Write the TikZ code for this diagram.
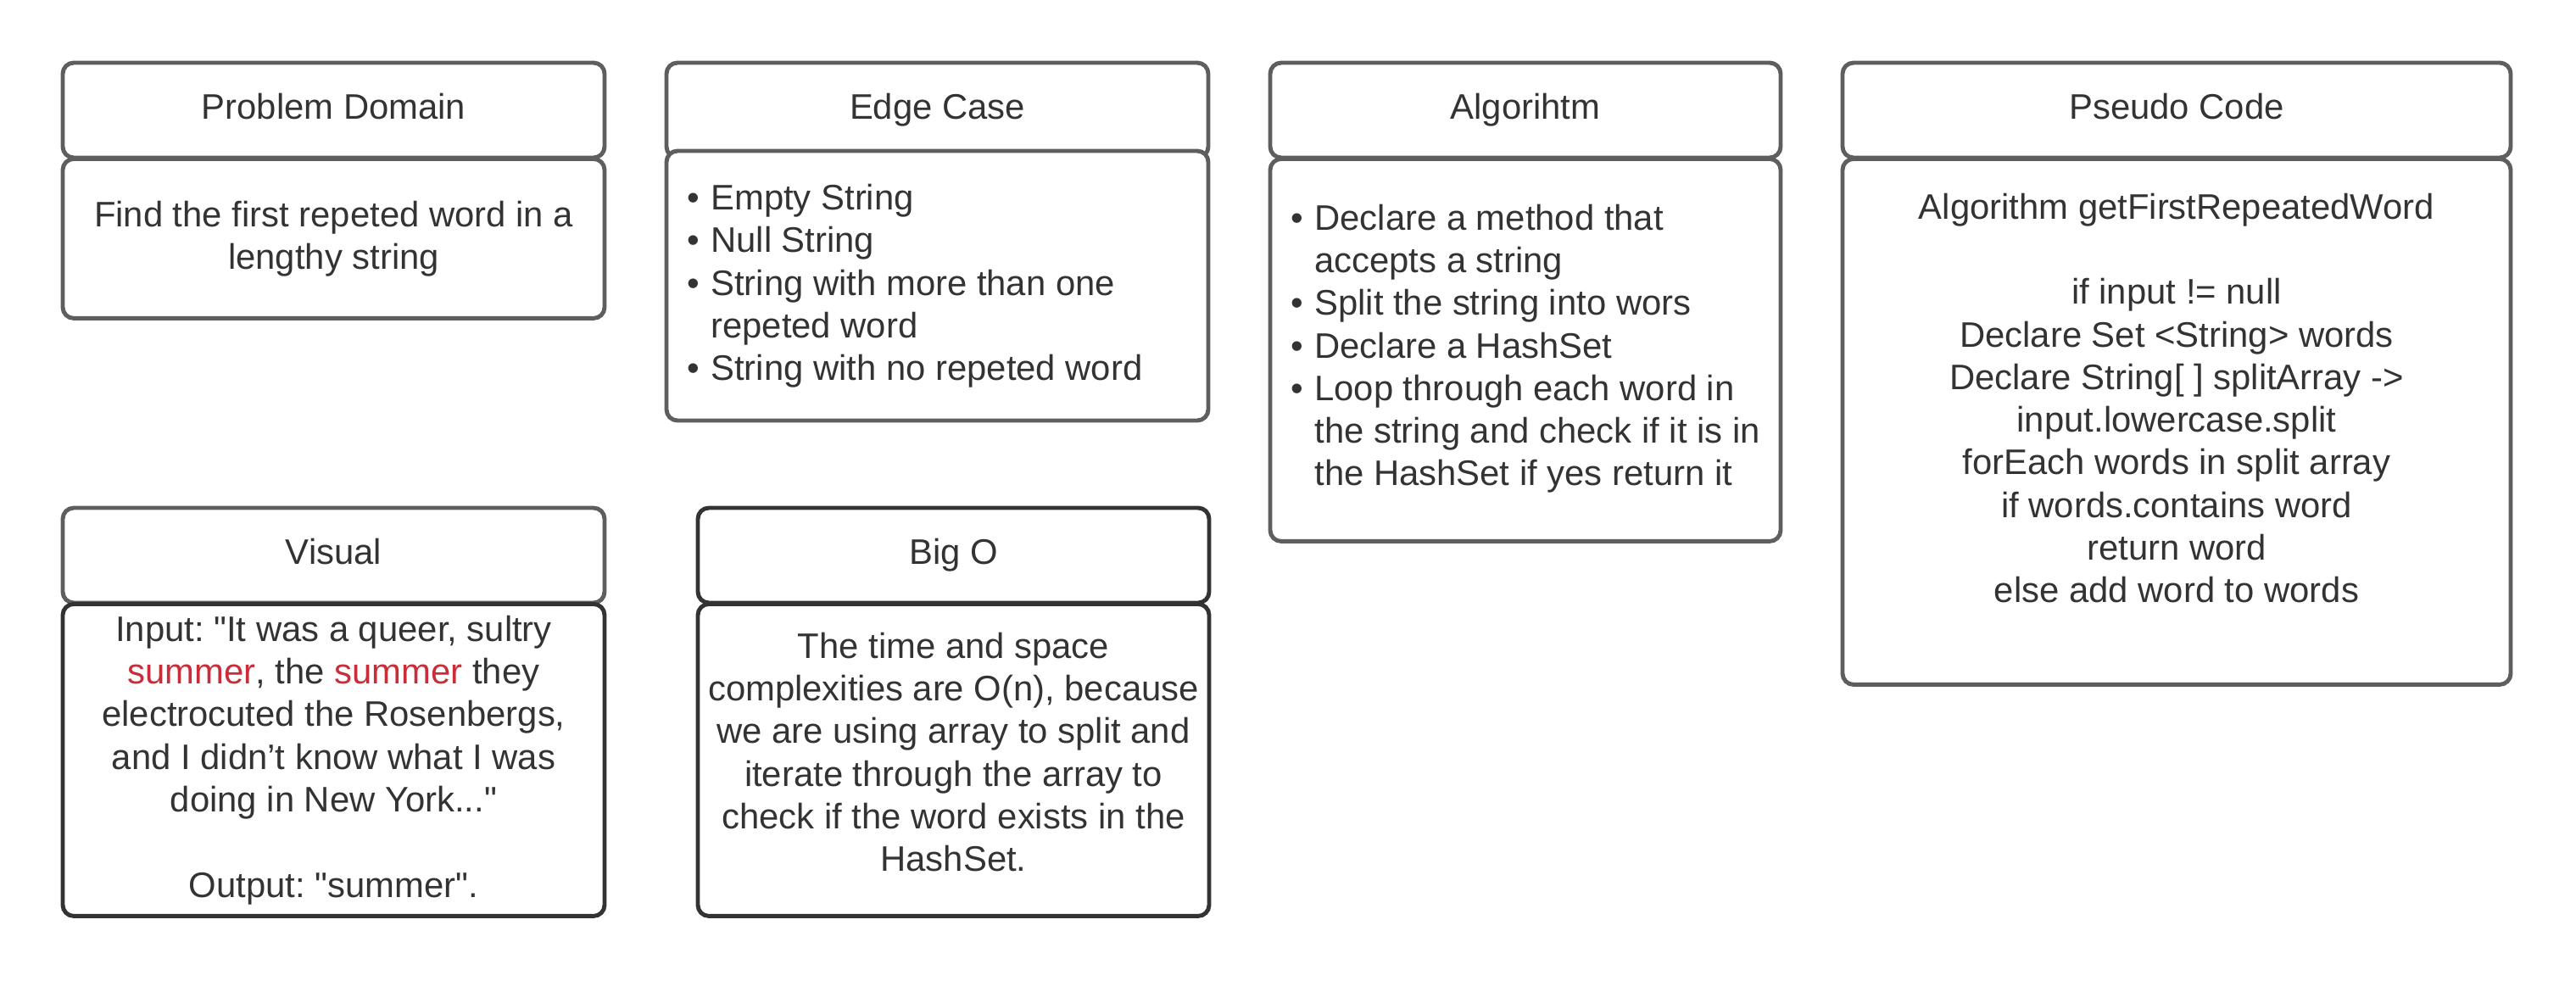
\documentclass[tikz,border=0pt]{standalone}
\usepackage{fontspec}
\newfontfamily\lucidfont{Liberation Sans}
\usepackage{tikz}
\usetikzlibrary{positioning}
\definecolor{boxgray}{HTML}{5E5E5E}
\definecolor{boxdark}{HTML}{333333}
\definecolor{txtgray}{HTML}{333333}
\definecolor{hlred}{HTML}{C92D39}
\newcommand{\hlword}[1]{\textcolor{hlred}{#1}}
\newenvironment{dotlist}{\spaceskip=0pt\xspaceskip=0pt%
  \begin{list}{\textbullet}{%
  \setlength{\leftmargin}{11.9pt}\setlength{\labelsep}{3.8pt}%
  \setlength{\labelwidth}{8.1pt}\setlength{\itemsep}{0pt}%
  \setlength{\parsep}{0pt}\setlength{\topsep}{0pt}\setlength{\partopsep}{0pt}}}%
  {\end{list}}

\begin{document}
\begin{tikzpicture}[node distance=0.73cm,
    box/.style={draw=boxgray,fill=white,line width=1.4pt,rounded corners=3.7pt,outer sep=0pt,
      font=\lucidfont\fontsize{11.9}{14.3}\selectfont\frenchspacing,text=txtgray,inner xsep=3pt,align=center},
    head node/.style={box,minimum height=1.12cm,text height=8.6pt,text depth=2.5pt},
    body node/.style={box},
    list node/.style={box,align=left},
    dark/.style={draw=boxdark}]
  \useasboundingbox (0,0) rectangle (30.38,-11.57);
  % top row
  \node[head node,minimum width=6.39cm,anchor=north west] (pdhead) at (0.74,-0.74) {Problem Domain};
  \node[body node,minimum width=6.39cm,minimum height=1.88cm,below=0.4pt of pdhead] (pdbody)
    {Find the first repeted word in a\\lengthy string};
  \node[head node,minimum width=6.39cm,right=of pdhead.north east,anchor=north west] (echead) {Edge Case};
  \node[list node,minimum width=6.39cm,minimum height=3.18cm,text width=6.39cm-6pt,
    below=-0.08cm of echead] (ecbody)
    {\begin{dotlist}
      \item Empty String
      \item Null String
      \item String with more than one\\repeted word
      \item String with no repeted word
    \end{dotlist}\vspace{5.5pt}};
  \node[head node,minimum width=6.02cm,right=of echead.north east,anchor=north west] (alghead) {Algorihtm};
  \node[list node,minimum width=6.02cm,minimum height=4.51cm,text width=6.02cm-6pt,
    below=0.4pt of alghead] (algbody)
    {\begin{dotlist}
      \item Declare a method that\\accepts a string
      \item Split the string into wors
      \item Declare a HashSet
      \item Loop through each word in\\the string and check if it is in\\the HashSet if yes return it
    \end{dotlist}\vspace{6.6pt}};
  \node[head node,minimum width=7.88cm,right=of alghead.north east,anchor=north west] (pchead) {Pseudo Code};
  \node[body node,minimum width=7.88cm,minimum height=6.2cm,text depth=16pt,below=0.4pt of pchead] (pcbody)
    {Algorithm getFirstRepeatedWord\\[14.3pt]
     if input != null\\
     Declare Set <String> words\\
     Declare String[ ] splitArray ->\\
     input.lowercase.split\\
     forEach words in split array\\
     if words.contains word\\
     return word\\
     else add word to words};
  % bottom row
  \node[head node,minimum width=6.39cm,anchor=north west] (vishead) at (0.74,-5.99) {Visual};
  \node[body node,dark,minimum width=6.39cm,minimum height=3.68cm,below=0.4pt of vishead] (visbody)
    {Input: "It was a queer, sultry\\
     \hlword{summer}, the \hlword{summer} they\\
     electrocuted the Rosenbergs,\\
     and I didn’t know what I was\\
     doing in New York..."\\[14.3pt]
     Output: "summer".};
  \node[head node,dark,minimum width=6.03cm,right=1.1cm of vishead.north east,anchor=north west] (bighead) {Big O};
  \node[body node,dark,minimum width=6.03cm,minimum height=3.68cm,text depth=5.5pt,below=0.4pt of bighead] (bigbody)
    {The time and space\\
     complexities are O(n), because\\
     we are using array to split and\\
     iterate through the array to\\
     check if the word exists in the\\
     HashSet.};
\end{tikzpicture}
\end{document}
